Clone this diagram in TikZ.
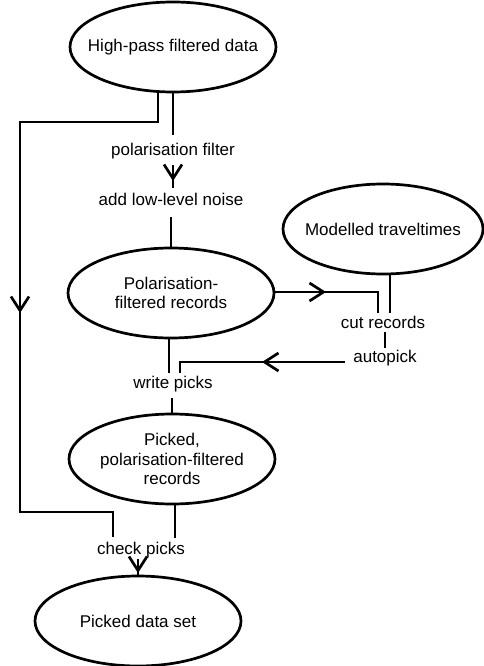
\documentclass[tikz,border=0pt]{standalone}
\usepackage{fontspec}
\setmainfont{Liberation Sans}
\usetikzlibrary{shapes.geometric,arrows.meta}
\begin{document}
\begin{tikzpicture}[x=1pt,y=-1pt,
  ln/.style={line width=2.7pt},
  barb/.style={-{Straight Barb[length=14pt,width=18pt]}},
  ell/.style={draw,ellipse,line width=2.7pt,minimum width=206pt,minimum height=90pt,inner sep=0pt},
  lab/.style={font=\fontsize{17}{19.5}\selectfont,inner sep=1pt,align=center}]
\useasboundingbox (0,0) rectangle (484,666);
% ellipses
\node[ell,label={[lab]center:High-pass filtered data}] (e1) at (173,47) {};
\node[ell,label={[lab]center:{Polarisation-\\filtered records}}] (e2) at (171,293) {};
\node[ell,minimum width=200pt,label={[lab]center:Modelled traveltimes}] (e3) at (383,229) {};
\node[ell,label={[lab]center:{Picked,\\polarisation-filtered\\records}}] (e4) at (172,459) {};
\node[ell,label={[lab]center:Picked data set}] (e5) at (138,621) {};
% labels
\node[lab] (pf) at (173,151) {polarisation filter};
\node[lab] (nz) at (171,199) {add low-level noise};
\node[lab] (cr) at (383,322) {cut records};
\node[lab] (ap) at (385,358) {autopick};
\node[lab] (wp) at (173,384) {write picks};
\node[lab] (cp) at (141,550) {check picks};
% coordinates
\coordinate (a1) at (158,122);
\coordinate (a2) at (20,122);
\coordinate (a3) at (20,313);
\coordinate (a4) at (20,512);
\coordinate (a5) at (113,512);
\coordinate (a6) at (113,537);
\coordinate (pfTop) at (173,135);
\coordinate (pfA) at (173,165);
\coordinate (pfB) at (173,181);
\coordinate (pfC) at (173,188);
\coordinate (nzBot) at (171,217);
\coordinate (b1) at (326,292);
\coordinate (b2) at (378,292);
\coordinate (b3) at (378,313);
\coordinate (c1) at (390,313);
\coordinate (d1) at (385,332);
\coordinate (d2) at (385,348);
\coordinate (f1) at (345,362);
\coordinate (f2) at (262,362);
\coordinate (f3) at (180,362);
\coordinate (f4) at (180,373);
\coordinate (g1) at (169,373);
\coordinate (h1) at (172,398);
\coordinate (k1) at (175,538);
\coordinate (m1) at (138,559);
\coordinate (m2) at (138,573);
% connectors
\draw[ln] (e1.south -| a1) -- (a1) -- (a2) -- (a4) -- (a5) -- (a6);
\draw[ln,barb] (a2) -- (a3);
\draw[ln] (e1.south) -- (pfTop);
\draw[ln] (pfA) -- (pfC);
\draw[ln,barb] (pfA) -- (pfB);
\draw[ln] (nzBot) -- (e2.north);
\draw[ln] (e2.east |- b1) -- (b2) -- (b3);
\draw[ln,barb] (e2.east |- b1) -- (b1);
\draw[ln] (e3.south -| c1) -- (c1);
\draw[ln] (d1) -- (d2);
\draw[ln] (f1) -- (f3) -- (f4);
\draw[ln,barb] (f1) -- (f2);
\draw[ln] (e2.south -| g1) -- (g1);
\draw[ln] (h1) -- (e4.north);
\draw[ln] (e4.south -| k1) -- (k1);
\draw[ln] (m1) -- (e5.north);
\draw[ln,barb] (m1) -- (m2);
\end{tikzpicture}
\end{document}
